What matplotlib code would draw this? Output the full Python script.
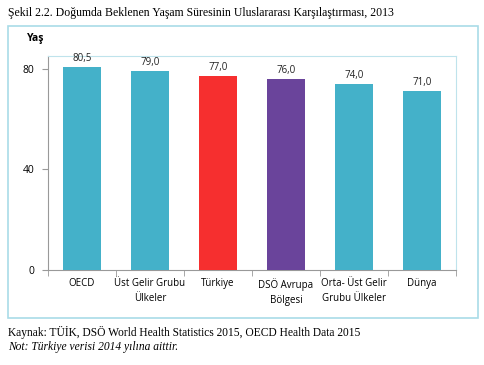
import matplotlib
matplotlib.use("Agg")
import matplotlib.pyplot as plt
from matplotlib.patches import Rectangle

categories = ["OECD", "Üst Gelir Grubu\nÜlkeler", "Türkiye", "DSÖ Avrupa\nBölgesi",
              "Orta- Üst Gelir\nGrubu Ülkeler", "Dünya"]
values = [80.5, 79.0, 77.0, 76.0, 74.0, 71.0]
value_labels = ["80,5", "79,0", "77,0", "76,0", "74,0", "71,0"]
colors = ["#44B1C9", "#44B1C9", "#F62F2F", "#6A449B", "#44B1C9", "#44B1C9"]
yticks = [0, 40, 80]

W, H = 485, 365
fig = plt.figure(figsize=(W / 100, H / 100), dpi=100)
fig.patch.set_facecolor("white")

def fx(px):
    return px / W

def fy(py):
    return 1 - py / H

# outer chart box
fig.patches.append(Rectangle((fx(8), fy(318)), fx(478) - fx(8), fy(26) - fy(318),
                             transform=fig.transFigure, fill=False,
                             edgecolor="#A9DCE8", linewidth=1.2))

ax = fig.add_axes([fx(48), fy(270), fx(456) - fx(48), fy(56) - fy(270)])
x = range(len(categories))
ax.bar(x, values, width=0.56, color=colors, zorder=3)
for xi, v, lab in zip(x, values, value_labels):
    ax.text(xi, v + 1.2, lab, ha="center", va="bottom", fontsize=7,
            family="Open Sans", color="#222222")

ax.set_xlim(-0.5, len(categories) - 0.5)
ax.set_ylim(0, 85)
ax.set_yticks(yticks)
ax.set_yticklabels([str(t) for t in yticks], fontsize=7.5, family="Open Sans")
ax.set_xticks(list(x))
ax.set_xticklabels(categories, fontsize=7, family="Open Sans", linespacing=1.5)
ax.tick_params(axis="x", length=0, pad=6)
ax.tick_params(axis="y", length=4, color="#999999", pad=6)
ax.set_xticks([i + 0.5 for i in range(-1, len(categories))], minor=True)
ax.tick_params(axis="x", which="minor", length=4, color="#999999")

for s in ["top", "right"]:
    ax.spines[s].set_color("#BFE3EC")
    ax.spines[s].set_linewidth(0.8)
ax.spines["left"].set_color("#999999")
ax.spines["bottom"].set_color("#999999")
ax.spines["left"].set_linewidth(0.8)
ax.spines["bottom"].set_linewidth(0.8)

fig.text(fx(27), fy(38), "Yaş", fontsize=7.5, fontweight="bold", family="Open Sans",
         va="center", ha="left")

fig.text(fx(8), fy(13), "Şekil 2.2. Doğumda Beklenen Yaşam Süresinin Uluslararası Karşılaştırması, 2013",
         fontsize=8.5, family="Liberation Serif", va="center", ha="left")
fig.text(fx(8), fy(332), "Kaynak: TÜİK, DSÖ World Health Statistics 2015, OECD Health Data 2015",
         fontsize=8.3, family="Liberation Serif", va="center", ha="left")
fig.text(fx(8), fy(347), "Not: Türkiye verisi 2014 yılına aittir.",
         fontsize=8.3, family="Liberation Serif", style="italic", va="center", ha="left")

fig.savefig("out.png", dpi=100)
